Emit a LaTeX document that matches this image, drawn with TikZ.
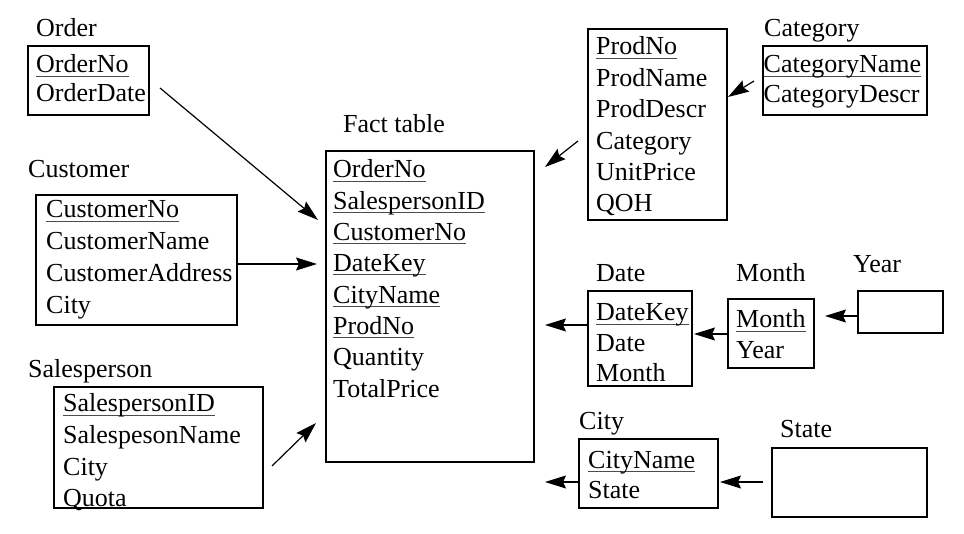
\documentclass[tikz,border=0pt]{standalone}
\usepackage{fontspec}
\setmainfont{Liberation Serif}
\usetikzlibrary{arrows.meta}
\newcommand{\keyul}[1]{\setbox0=\hbox{#1}\rlap{\color{black!70}\rule[-3.5pt]{\wd0}{0.9pt}}\box0}
\newcommand{\tablerows}[5]{%
  \foreach \t [count=\i] in {#5}
    \node[txt] (#1-\i) at (#2, {#3+(\i-1)*#4}) {\t};}
\tikzset{
  tbox/.style={draw, line width=1.2pt, inner sep=0pt, outer sep=0pt, anchor=north west},
  txt/.style={inner sep=0pt, anchor=base west, font=\fontsize{26}{31}\selectfont},
  conn/.style={line width=1.2pt, -{Stealth[length=21pt,width=13pt,inset=3pt]}},
}
\begin{document}
\begin{tikzpicture}[x=1pt, y=-1pt]
\useasboundingbox (0,0) rectangle (964,534);

% boxes
\node[tbox, minimum width=121pt, minimum height=69pt] (order) at (28,46) {};
\node[tbox, minimum width=201pt, minimum height=130pt] (customer) at (36,195) {};
\node[tbox, minimum width=209pt, minimum height=121pt] (sales) at (54,387) {};
\node[tbox, minimum width=208pt, minimum height=311pt] (fact) at (326,151) {};
\node[tbox, minimum width=139pt, minimum height=191pt] (product) at (588,29) {};
\node[tbox, minimum width=164pt, minimum height=69pt] (category) at (763,46) {};
\node[tbox, minimum width=104pt, minimum height=95pt] (date) at (588,291) {};
\node[tbox, minimum width=86pt, minimum height=69pt] (month) at (728,299) {};
\node[tbox, minimum width=85pt, minimum height=42pt] (year) at (858,291) {};
\node[tbox, minimum width=139pt, minimum height=69pt] (city) at (579,439) {};
\node[tbox, minimum width=155pt, minimum height=69pt] (state) at (772,448) {};

% titles
\node[txt] (order-title) at (36,37) {Order};
\node[txt] (customer-title) at (28,178) {Customer};
\node[txt] (sales-title) at (28,378) {Salesperson};
\node[txt] (fact-title) at (343,133) {Fact table};
\node[txt] (category-title) at (764,37) {Category};
\node[txt] (date-title) at (596,282) {Date};
\node[txt] (month-title) at (736,282) {Month};
\node[txt] (year-title) at (853,273) {Year};
\node[txt] (city-title) at (579,430) {City};
\node[txt] (state-title) at (780,438) {State};

% rows
\tablerows{orow}{36}{73}{29}{\keyul{OrderNo}, OrderDate}
\tablerows{crow}{46}{218}{31.7}{\keyul{CustomerNo}, CustomerName, CustomerAddress, City}
\tablerows{srow}{63}{412}{31.6}{\keyul{SalespersonID}, SalespesonName, City, Quota}
\tablerows{frow}{333}{178}{31.3}{\keyul{OrderNo}, \keyul{SalespersonID}, \keyul{CustomerNo}, \keyul{DateKey}, \keyul{CityName}, \keyul{ProdNo}, Quantity, TotalPrice}
\tablerows{prow}{596}{55}{31.4}{\keyul{ProdNo}, ProdName, ProdDescr, Category, UnitPrice, QOH}
\tablerows{catrow}{763.5}{73}{30}{\keyul{CategoryName}, CategoryDescr}
\tablerows{drow}{596}{321}{30.5}{\keyul{DateKey}, Date, Month}
\tablerows{mrow}{736}{328}{31}{\keyul{Month}, Year}
\tablerows{cirow}{588}{468}{30}{\keyul{CityName}, State}

% connector ends
\coordinate (o-s) at (160,88);
\coordinate (o-e) at (318,220);
\coordinate (c-e) at (317,264);
\coordinate (s-s) at (272,466);
\coordinate (s-e) at (316,423);
\coordinate (p-s) at (578,141);
\coordinate (p-e) at (545,167);
\coordinate (cat-s) at (754,81);
\coordinate (cat-e) at (728,97);
\coordinate (d-e) at (545,325);
\coordinate (m-e) at (694,334);
\coordinate (y-e) at (825,316);
\coordinate (ci-e) at (545,482);
\coordinate (st-s) at (763,482);
\coordinate (st-e) at (720,482);

% connectors
\draw[conn] (o-s) -- (o-e);
\draw[conn] (customer.east |- c-e) -- (c-e);
\draw[conn] (s-s) -- (s-e);
\draw[conn] (p-s) -- (p-e);
\draw[conn] (cat-s) -- (cat-e);
\draw[conn] (date.west |- d-e) -- (d-e);
\draw[conn] (month.west |- m-e) -- (m-e);
\draw[conn] (year.west |- y-e) -- (y-e);
\draw[conn] (city.west |- ci-e) -- (ci-e);
\draw[conn] (st-s) -- (st-e);
\end{tikzpicture}
\end{document}
